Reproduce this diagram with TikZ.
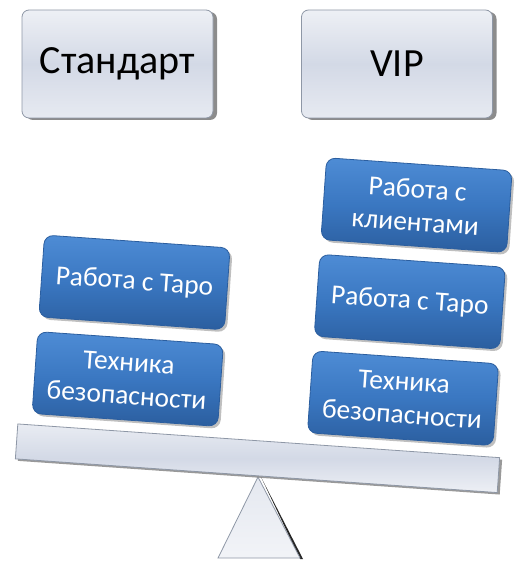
\documentclass[tikz,border=0pt]{standalone}
\usepackage{fontspec}
\setmainfont{Carlito}
\usetikzlibrary{positioning,shadows}
\definecolor{tiergray}{HTML}{D3D9E6}
\definecolor{tieredge}{HTML}{8E97A6}
\definecolor{itemblue}{HTML}{3A77C1}
\definecolor{itemlight}{HTML}{4E8CD5}
\definecolor{itemdark}{HTML}{2B5E9F}

\begin{document}
\begin{tikzpicture}[
    x=1pt, y=1pt,
    tierbox/.style={draw=tieredge, line width=0.8pt, rounded corners=7pt,
      top color=white!60!tiergray, bottom color=white!45!tiergray, middle color=tiergray,
      drop shadow={shadow xshift=4pt, shadow yshift=-2pt, opacity=.9},
      minimum width=191pt, minimum height=108pt, text=black,
      font=\fontsize{40}{46}\selectfont},
    itembox/.style={draw=itemdark, line width=0.8pt, rounded corners=9pt,
      top color=itemlight, bottom color=itemdark, middle color=itemblue,
      drop shadow={shadow xshift=2.5pt, shadow yshift=-2.5pt, opacity=.5},
      minimum width=186pt, minimum height=82pt, align=center, text=white,
      font=\fontsize{27.5}{33}\selectfont},
    beambar/.style={draw=tieredge, line width=0.8pt,
      top color=white!50!tiergray, bottom color=white!60!tiergray, middle color=tiergray,
      drop shadow={shadow xshift=2.5pt, shadow yshift=-2pt, opacity=.8},
      minimum width=483pt, minimum height=35pt},
    pivot/.style={draw=tieredge, line width=0.8pt,
      top color=white!40!tiergray, bottom color=white!70!tiergray}
]
\useasboundingbox (0,0) rectangle (526,-572);

% tiers
\node[tierbox] (standard) at (117.5,-64) {Стандарт};
\node[tierbox] (vip) at (397,-64) {VIP};

% pivot
\coordinate (apex) at (258,-477);
\coordinate (baseleft) at (218,-558);
\coordinate (baseright) at (300,-558);
\fill[black, opacity=.85] ([xshift=3pt]apex) -- ([xshift=3pt,yshift=-1pt]baseright) -- ([yshift=-1pt]baseright) -- cycle;
\path[pivot] (apex) -- (baseright) -- (baseleft) -- cycle;

% beam and items
\begin{scope}[shift={(257.5,-458.25)}, rotate=-4, transform shape]
  \node[beambar] (beam) at (0,0) {};
  \node[itembox] (lsafety) at (-135,70) {Техника\\безопасности};
  \node[itembox, above=14pt of lsafety] (ltarot) {Работа с Таро};
  \node[itembox] (rsafety) at (141,70) {Техника\\безопасности};
  \node[itembox, above=14pt of rsafety] (rtarot) {Работа с Таро};
  \node[itembox, above=14pt of rtarot] (rclients) {Работа с\\клиентами};
\end{scope}
\end{tikzpicture}
\end{document}
